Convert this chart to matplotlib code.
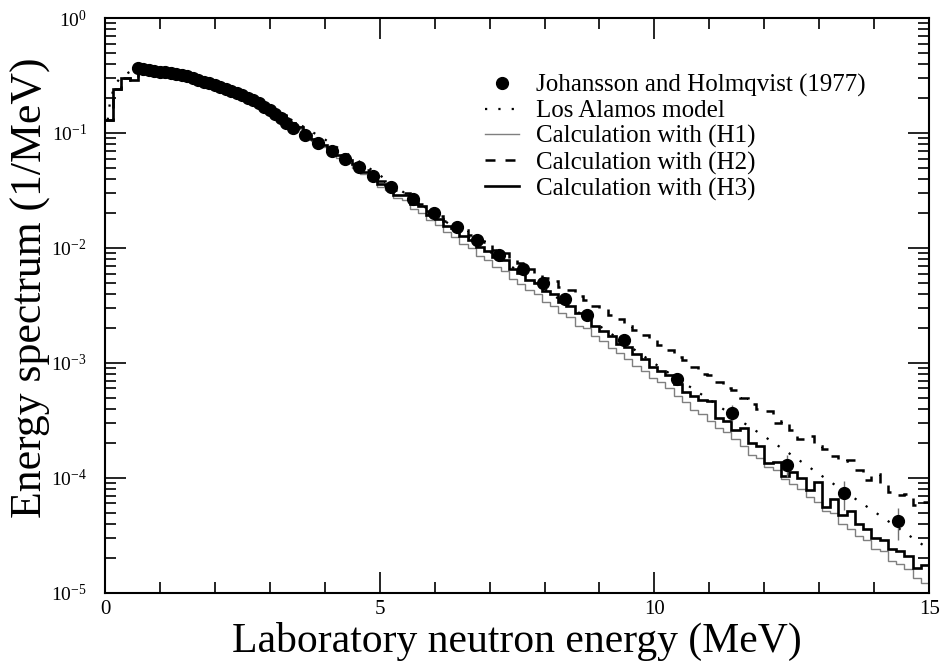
import numpy as np
import matplotlib
matplotlib.use('Agg')
import matplotlib.pyplot as plt
from matplotlib.lines import Line2D
from matplotlib.ticker import MultipleLocator, LogLocator, NullFormatter

plt.rcParams['font.family'] = 'Liberation Serif'
plt.rcParams['mathtext.fontset'] = 'stix'

# histogram bins of the calculations (MeV)
bin_width = 0.15
n_bins = 100
bin_edges = np.arange(n_bins + 1) * bin_width

# Calculation with (H1), thin gray
h1 = [0.13, 0.24, 0.30, 0.29, 0.36, 0.37, 0.35, 0.34, 0.33, 0.32,
      0.305, 0.29, 0.275, 0.26, 0.245, 0.232, 0.215, 0.20, 0.183, 0.168,
      0.15, 0.137, 0.121, 0.108, 0.094, 0.085, 0.075, 0.068, 0.061, 0.055,
      0.050, 0.044, 0.040, 0.034, 0.032, 0.027, 0.026, 0.022, 0.020, 0.0175,
      0.016, 0.0138, 0.0125, 0.0108, 0.0100, 0.0086, 0.0078, 0.0068, 0.0063, 0.0054,
      0.0049, 0.0043, 0.0040, 0.0034, 0.0031, 0.0027, 0.0025, 0.0021, 0.0020, 0.0017,
      0.00155, 0.00135, 0.00122, 0.00108, 0.00095, 0.00085, 0.00074, 0.00068, 0.00060, 0.00052,
      0.00046, 0.00039, 0.00036, 0.00031, 0.00027, 0.00025, 0.00022, 0.00019, 0.00016, 0.000148,
      0.000125, 0.000118, 0.000098, 0.000088, 0.000080, 0.000068, 0.000062, 0.000052, 0.000050, 0.000040,
      0.000036, 0.000031, 0.000029, 0.000024, 0.000023, 0.000019, 0.000018, 0.000016, 0.0000135, 0.0000122]

# Calculation with (H2), dashed
h2 = [0.13, 0.24, 0.30, 0.29, 0.36, 0.37, 0.35, 0.345, 0.335, 0.325,
      0.31, 0.295, 0.28, 0.262, 0.25, 0.236, 0.22, 0.206, 0.188, 0.172,
      0.155, 0.142, 0.125, 0.113, 0.098, 0.090, 0.079, 0.073, 0.066, 0.059,
      0.055, 0.048, 0.044, 0.038, 0.036, 0.032, 0.030, 0.026, 0.024, 0.021,
      0.019, 0.017, 0.016, 0.0142, 0.0130, 0.0116, 0.0112, 0.0096, 0.0090, 0.0078,
      0.0074, 0.0066, 0.0060, 0.0055, 0.0052, 0.0046, 0.0043, 0.0038, 0.0035, 0.0031,
      0.0030, 0.0026, 0.0024, 0.0021, 0.00195, 0.00175, 0.0016, 0.00142, 0.00130, 0.00112,
      0.00106, 0.00092, 0.00080, 0.00078, 0.00068, 0.00060, 0.00058, 0.00050, 0.00044, 0.00040,
      0.00038, 0.00030, 0.00031, 0.00026, 0.00022, 0.00023, 0.00019, 0.00018, 0.000155, 0.000140,
      0.000142, 0.000118, 0.000096, 0.000108, 0.000088, 0.000076, 0.000071, 0.000072, 0.000058, 0.000062]

# Calculation with (H3), thick black
h3 = [0.13, 0.24, 0.30, 0.29, 0.36, 0.37, 0.35, 0.345, 0.33, 0.325,
      0.305, 0.295, 0.28, 0.26, 0.25, 0.235, 0.218, 0.205, 0.185, 0.17,
      0.152, 0.14, 0.122, 0.112, 0.095, 0.088, 0.078, 0.072, 0.064, 0.058,
      0.054, 0.046, 0.043, 0.036, 0.035, 0.029, 0.029, 0.024, 0.023, 0.0195,
      0.018, 0.0155, 0.0148, 0.0128, 0.0118, 0.0102, 0.0095, 0.0083, 0.0078, 0.0066,
      0.0061, 0.0053, 0.0050, 0.0042, 0.0040, 0.0034, 0.0031, 0.0027, 0.0025, 0.0021,
      0.0019, 0.0017, 0.00145, 0.00138, 0.00120, 0.00108, 0.00092, 0.00085, 0.00078, 0.00066,
      0.00056, 0.00052, 0.00048, 0.00047, 0.00033, 0.00031, 0.00026, 0.00027, 0.00020, 0.00019,
      0.000135, 0.000138, 0.000105, 0.000112, 0.000100, 0.000078, 0.000092, 0.000056, 0.000066, 0.000048,
      0.000052, 0.000040, 0.000036, 0.000030, 0.000029, 0.000024, 0.000023, 0.000021, 0.0000165, 0.0000175]

# Los Alamos model (dotted)
la_energy = [0.05, 0.1, 0.2, 0.3, 0.5, 0.75, 1.0, 1.5, 2.0, 2.5, 3.0, 3.5, 4.0, 4.5,
             5.0, 5.5, 6.0, 6.5, 7.0, 7.5, 8.0, 8.5, 9.0, 9.5, 10.0, 10.5, 11.0,
             11.5, 12.0, 12.5, 13.0, 13.5, 14.0, 14.5, 15.0]
la_value = [0.13, 0.20, 0.27, 0.31, 0.35, 0.36, 0.35, 0.315, 0.265, 0.215, 0.165,
            0.122, 0.088, 0.062, 0.043, 0.029, 0.0198, 0.0135, 0.0093, 0.0064,
            0.0044, 0.0030, 0.0021, 0.00145, 0.00099, 0.00069, 0.00048, 0.00033,
            0.00023, 0.000158, 0.000108, 0.000074, 0.000051, 0.000035, 0.000024]

# Johansson and Holmqvist (1977)
exp_energy = [0.6, 0.7, 0.8, 0.9, 1.0, 1.1, 1.2, 1.3, 1.4, 1.5, 1.6, 1.7, 1.8, 1.9,
              2.0, 2.1, 2.2, 2.3, 2.4, 2.5, 2.6, 2.7, 2.8, 2.9, 3.0, 3.1, 3.2, 3.3,
              3.42, 3.64, 3.87, 4.13, 4.36, 4.62, 4.87, 5.2, 5.6, 5.98, 6.4, 6.78,
              7.18, 7.6, 7.98, 8.38, 8.78, 9.44, 10.42, 11.42, 12.42, 13.45, 14.44]
exp_value = [0.37, 0.36, 0.35, 0.345, 0.34, 0.338, 0.335, 0.328, 0.32, 0.31, 0.30,
             0.29, 0.28, 0.27, 0.26, 0.25, 0.242, 0.232, 0.223, 0.213, 0.203, 0.192,
             0.181, 0.17, 0.158, 0.146, 0.134, 0.122,
             0.110, 0.096, 0.082, 0.070, 0.060, 0.0506, 0.042, 0.034, 0.0267, 0.0201,
             0.0152, 0.0118, 0.0087, 0.0066, 0.0050, 0.0036, 0.0026, 0.00159,
             0.00073, 0.00037, 0.000129, 0.000074, 0.000042]
exp_error = [0.0] * 40 + [0.0004, 0.0003, 0.00025, 0.0002, 0.00017, 0.00013,
                          0.00008, 0.00006, 0.000028, 0.000021, 0.000013]

fig = plt.figure(figsize=(9.43, 6.67), dpi=100)
ax = fig.add_axes([0.1113, 0.111, 0.874, 0.862])

ax.stairs(h1, bin_edges, baseline=None, color='#7f7f7f', linewidth=1.0)
ax.stairs(h2, bin_edges, baseline=None, color='black', linewidth=1.8,
          linestyle=(0, (4, 4)))
ax.stairs(h3, bin_edges, baseline=None, color='black', linewidth=1.9)
ax.plot(la_energy, la_value, color='black', linewidth=1.6,
        linestyle=(0, (1, 5)))
ax.errorbar(exp_energy, exp_value, yerr=exp_error, fmt='o', color='black',
            markersize=8.5, ecolor='#707070', elinewidth=1.0, capsize=0, zorder=5)

ax.set_yscale('log')
ax.set_xlim(0, 15)
ax.set_ylim(1e-5, 1)

ax.xaxis.set_major_locator(MultipleLocator(5))
ax.xaxis.set_minor_locator(MultipleLocator(1))
ax.yaxis.set_major_locator(LogLocator(base=10, numticks=10))
ax.yaxis.set_minor_locator(LogLocator(base=10, subs=np.arange(2, 10), numticks=20))
ax.yaxis.set_minor_formatter(NullFormatter())
ax.tick_params(which='both', direction='in', top=True, right=True, width=1.2)
ax.tick_params(which='major', length=15, labelsize=14)
ax.tick_params(axis='x', which='major', labelsize=15, pad=5)
ax.tick_params(axis='y', which='major', pad=13)
ax.tick_params(which='minor', length=8)
for s in ax.spines.values():
    s.set_linewidth(1.5)

ax.set_xlabel('Laboratory neutron energy (MeV)', fontsize=30)
ax.xaxis.set_label_coords(0.5, -0.05)
ax.set_ylabel('Energy spectrum (1/MeV)', fontsize=31.5)
ax.yaxis.set_label_coords(-0.066, 0.53)

handles = [
    Line2D([], [], marker='o', linestyle='none', color='black', markersize=8.5),
    Line2D([], [], color='black', linewidth=1.6, linestyle=(0, (1, 5))),
    Line2D([], [], color='#7f7f7f', linewidth=1.0),
    Line2D([], [], color='black', linewidth=1.8, linestyle=(0, (4, 4))),
    Line2D([], [], color='black', linewidth=1.9),
]
labels = ['Johansson and Holmqvist (1977)', 'Los Alamos model',
          'Calculation with (H1)', 'Calculation with (H2)', 'Calculation with (H3)']
ax.legend(handles, labels, loc='upper left', bbox_to_anchor=(0.461, 0.903),
          frameon=False, fontsize=18, handlelength=1.35, handletextpad=0.7,
          labelspacing=0.12, borderpad=0, borderaxespad=0)

fig.savefig('out.png', dpi=100)
